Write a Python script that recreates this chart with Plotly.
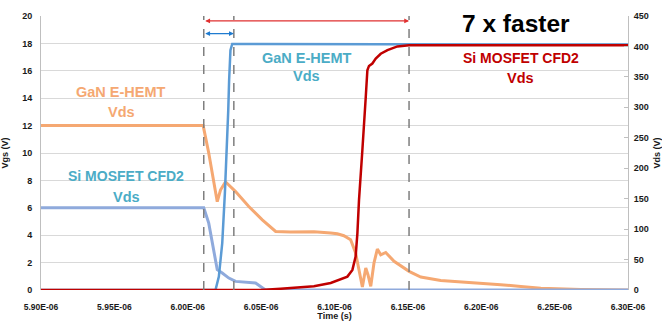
import plotly.graph_objects as go

# ---------------- data (time in microseconds) ----------------
x_ticks_us = [5.90, 5.95, 6.00, 6.05, 6.10, 6.15, 6.20, 6.25, 6.30]
x_tick_labels = ["5.90E-06", "5.95E-06", "6.00E-06", "6.05E-06", "6.10E-06",
                 "6.15E-06", "6.20E-06", "6.25E-06", "6.30E-06"]

# GaN E-HEMT falling curve (left axis)
gan_fall_t = [5.90, 6.0105, 6.0143, 6.0178, 6.0201, 6.0223, 6.0257, 6.0326, 6.0416,
              6.0508, 6.0599, 6.0700, 6.0860, 6.0974, 6.1019, 6.1064, 6.1110, 6.1144,
              6.1167, 6.1190, 6.1213, 6.1228, 6.1247, 6.1269, 6.1292, 6.1315, 6.1349,
              6.1406, 6.1508, 6.1588, 6.1724, 6.1906, 6.2043, 6.2086, 6.2133, 6.2270,
              6.2406, 6.2679, 6.30]
gan_fall_v = [12.0, 12.0, 10.0, 7.8, 6.45, 7.3, 7.9, 7.18, 6.09,
              5.12, 4.27, 4.24, 4.26, 4.16, 4.10, 3.96, 3.67, 2.7,
              1.48, 0.22, 1.6, 1.12, 0.27, 1.97, 2.99, 2.57, 2.74,
              2.09, 1.36, 0.95, 0.7, 0.58, 0.46, 0.44, 0.39, 0.26,
              0.12, 0.04, 0.0]

# Si MOSFET CFD2 falling curve (left axis)
si_fall_t = [5.90, 6.0109, 6.0143, 6.0178, 6.0201, 6.0235, 6.0280, 6.0326, 6.0462,
             6.0496, 6.0530, 6.30]
si_fall_v = [6.0, 6.0, 4.88, 2.94, 1.48, 1.24, 0.87, 0.63, 0.51, 0.26, 0.0, 0.0]

# GaN E-HEMT Vds rising (right axis, V)
gan_vds_t = [5.90, 6.0189, 6.0212, 6.0235, 6.0253, 6.0269, 6.0276, 6.0282, 6.0291,
             6.0303, 6.10, 6.30]
gan_vds_v = [0, 0, 22, 77, 159, 241, 295, 345, 394, 404, 404, 403]

# Si MOSFET CFD2 Vds rising (right axis, V)
si_vds_t = [5.90, 6.0496, 6.0633, 6.0860, 6.0974, 6.1042, 6.1088, 6.1122, 6.1144,
            6.1156, 6.1167, 6.1190, 6.1197, 6.1213, 6.1224, 6.1235, 6.1258, 6.1281,
            6.1315, 6.1361, 6.1429, 6.1508, 6.30]
si_vds_v = [0, 0, 2, 6, 11.5, 17, 22, 33, 55, 93, 148, 230, 263, 317, 361, 368, 372,
            380, 388, 394, 400, 402, 402]

# markers of switching times (dashed lines)
mark_t = [6.0109, 6.0314, 6.1508]

US = 1e-6
def s(lst):
    return [v * US for v in lst]

ORANGE = "#F5A872"
LBLUE = "#8FAADC"
BLUE = "#5B9BD5"
RED = "#C00000"
CYAN = "#4BACC6"
FONT = "Liberation Sans, Arial, sans-serif"

fig = go.Figure()
fig.add_trace(go.Scatter(x=s(gan_fall_t), y=gan_fall_v, mode="lines",
                         line=dict(color=ORANGE, width=3), yaxis="y"))
fig.add_trace(go.Scatter(x=s(si_fall_t), y=si_fall_v, mode="lines",
                         line=dict(color=LBLUE, width=3), yaxis="y"))
fig.add_trace(go.Scatter(x=s(gan_vds_t), y=gan_vds_v, mode="lines",
                         line=dict(color=BLUE, width=2.5), yaxis="y2"))
fig.add_trace(go.Scatter(x=s(si_vds_t), y=si_vds_v, mode="lines",
                         line=dict(color=RED, width=2.5), yaxis="y2"))

for t in mark_t:
    fig.add_shape(type="line", xref="x", yref="y", x0=t * US, x1=t * US, y0=0, y1=20.1,
                  line=dict(color="#7F7F7F", width=1.5, dash="dash"), layer="above")

# double arrows
arrows = [(mark_t[0], mark_t[2], 19.64, "#E03030"), (mark_t[0], mark_t[1], 18.72, "#1F7BD0")]
for a, b, yv, col in arrows:
    fig.add_annotation(x=b * US, y=yv, ax=a * US, ay=yv, xref="x", yref="y",
                       axref="x", ayref="y", showarrow=True, arrowhead=2,
                       arrowside="end+start", arrowsize=0.8, arrowwidth=1.2,
                       arrowcolor=col, text="")

labels = [
    ("GaN E-HEMT", 5.9546, 14.46, ORANGE, 14.5),
    ("Vds", 5.9546, 13.01, ORANGE, 14.5),
    ("Si MOSFET CFD2", 5.9582, 8.32, CYAN, 14),
    ("Vds", 5.9582, 6.82, CYAN, 14.5),
    ("GaN E-HEMT", 6.0810, 16.97, CYAN, 14.5),
    ("Vds", 6.0810, 15.61, CYAN, 14.5),
    ("Si MOSFET CFD2", 6.2270, 16.97, RED, 14),
    ("Vds", 6.2270, 15.51, RED, 14.5),
    ("7 x faster", 6.2236, 19.45, "#000000", 24.5),
]
for txt, xt, yt, col, fs in labels:
    fig.add_annotation(x=xt * US, y=yt, xref="x", yref="y", text=txt, showarrow=False,
                       font=dict(family=FONT, size=fs, color=col, weight="bold"),
                       xanchor="center", yanchor="middle")

tickfont = dict(family=FONT, size=8.5, color="#1A1A1A", weight="bold")
ytickfont = dict(family=FONT, size=9, color="#1A1A1A", weight="bold")
fig.update_layout(
    width=662, height=321,
    margin=dict(l=41, r=34, t=16, b=31),
    paper_bgcolor="white", plot_bgcolor="white",
    showlegend=False,
    xaxis=dict(range=[5.9e-6, 6.3e-6], tickvals=s(x_ticks_us), ticktext=x_tick_labels,
               showgrid=False, zeroline=False, showline=False, ticks="",
               tickfont=tickfont, ticklabelstandoff=10, automargin=False,
               title=dict(text="Time (s)", font=ytickfont)),
    yaxis=dict(range=[0, 20], dtick=2, showgrid=True, gridcolor="#D9D9D9", gridwidth=1,
               zeroline=False, showline=True, linecolor="#BFBFBF", ticks="",
               tickfont=ytickfont, ticklabelstandoff=6, automargin=False,
               title=dict(text="Vgs (V)", font=ytickfont)),
    yaxis2=dict(range=[0, 450], dtick=50, overlaying="y", side="right", showgrid=False,
                zeroline=False, showline=True, linecolor="#BFBFBF", ticks="inside",
                ticklen=4, tickcolor="#BFBFBF", tickfont=ytickfont, ticklabelstandoff=3,
                automargin=False,
                title=dict(text="Vds (V)", font=ytickfont)),
)

fig.write_html("out.html", config={"displayModeBar": False},
               post_script="document.body.style.margin='0';")
